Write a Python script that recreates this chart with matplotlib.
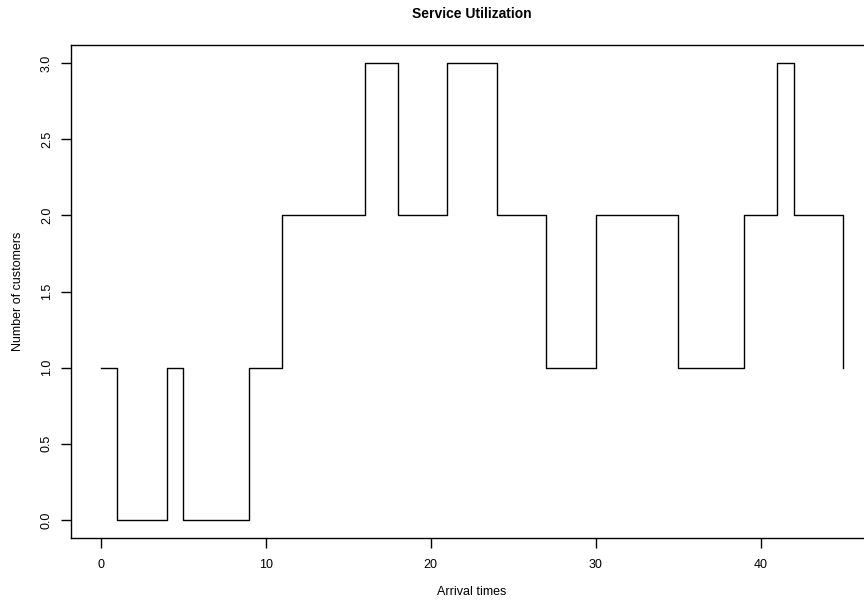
import numpy as np
from matplotlib import pyplot as plt

# arrival times and customers in service (step plot, R type="s")
arrival_times = [0, 1, 4, 5, 9, 11, 16, 18, 21, 24, 27, 30, 35, 39, 41, 42, 45]
customers = [1, 0, 1, 0, 1, 2, 3, 2, 3, 2, 1, 2, 1, 2, 3, 2, 1]
x_ticks = [0, 10, 20, 30, 40]
y_ticks = [0.0, 0.5, 1.0, 1.5, 2.0, 2.5, 3.0]

plt.rcParams['font.family'] = ['Liberation Sans', 'DejaVu Sans']

fig = plt.figure(figsize=(8.64, 6.02), dpi=100)
ax = fig.add_axes([0.0822, 0.1058, 1.0104 - 0.0822, 0.9257 - 0.1058])

ax.plot(arrival_times, customers, drawstyle='steps-post', color='black', lw=1)

ax.set_xlim(-1.8, 46.8)
ax.set_ylim(-0.12, 3.12)
ax.set_xticks(x_ticks)
ax.set_xticklabels([str(t) for t in x_ticks])
ax.set_yticks(y_ticks)
ax.set_yticklabels(['%.1f' % t for t in y_ticks], rotation=90, va='center')
ax.tick_params(direction='out', length=7, width=1, labelsize=9, pad=8)
ax.tick_params(axis='y', pad=6)
for s in ax.spines.values():
    s.set_linewidth(1)
ax.spines['right'].set_visible(False)

ax.set_xlabel('Arrival times', fontsize=9, labelpad=11)
ax.set_ylabel('Number of customers', fontsize=9, labelpad=12)
ax.set_title('Service Utilization', fontsize=10, fontweight='bold', pad=19)

fig.savefig('out.png', dpi=100)
